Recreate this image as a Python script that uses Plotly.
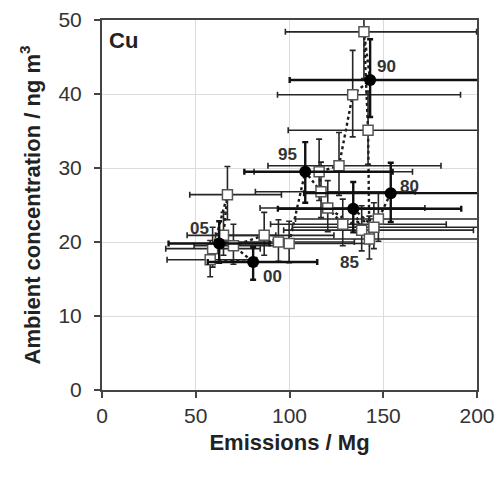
import plotly.graph_objects as go

# Chronological series 1980-2005
years = ["80","81","82","83","84","85","86","87","88","89","90","91","92","93","94",
         "95","96","97","98","99","00","01","02","03","04","05"]
emissions = [154.0,147.4,128.4,120.4,138.5,134.0,145.0,142.6,141.9,139.7,143.0,133.7,126.4,115.8,116.8,
             108.4,99.8,94.1,86.5,70.1,80.6,57.7,66.9,64.8,59.0,62.5]
concentration = [26.6,23.1,22.4,24.6,21.6,24.5,22.0,20.4,35.1,48.4,41.9,39.9,30.3,29.5,26.8,
                 29.5,19.8,20.0,20.9,19.5,17.3,17.6,26.4,20.9,19.1,19.8]
emis_err_plus = [66.2,63.4,55.2,51.8,59.6,57.6,62.4,61.3,61.0,60.1,61.5,57.5,54.4,49.8,50.2,
                 46.6,42.9,40.5,37.2,30.1,34.2,24.8,28.8,27.9,25.4,26.9]
emis_err_minus = [46.2,44.2,38.5,36.1,41.6,40.2,43.5,42.8,42.6,41.9,42.9,40.1,37.9,34.7,35.0,
                  32.5,29.9,28.2,26.0,21.0,24.2,23.0,20.1,19.4,25.0,27.0]
conc_err_plus = [4.1,3.5,3.4,3.7,3.3,3.6,3.3,3.1,5.3,7.0,5.5,6.0,4.5,4.4,4.0,
                 4.0,3.0,3.0,3.1,2.9,2.0,2.6,3.8,3.1,2.9,3.0]
conc_err_minus = [3.9,3.0,2.9,3.2,2.8,3.2,2.9,2.7,4.6,6.3,5.0,5.7,4.0,3.9,3.5,
                  4.2,2.6,2.6,2.7,2.5,2.4,2.3,3.4,2.7,2.5,2.6]
labelled = ["80","85","90","95","00","05"]
label_pos = {"80": (19, 7), "85": (-4, -54), "90": (16, 13), "95": (-18, 17), "00": (19, -15), "05": (-20, 15)}

idx_f = [i for i, y in enumerate(years) if y in labelled]
idx_o = [i for i, y in enumerate(years) if y not in labelled]

FONT = "Liberation Sans, Arial"
fig = go.Figure()
# dotted chronological line
fig.add_trace(go.Scatter(x=emissions, y=concentration, mode="lines",
                         line=dict(color="#1a1a1a", width=2.4, dash="dot"),
                         showlegend=False, hoverinfo="skip"))
# open squares with error bars
fig.add_trace(go.Scatter(
    x=[emissions[i] for i in idx_o], y=[concentration[i] for i in idx_o], mode="markers",
    marker=dict(symbol="square", size=10, color="white", line=dict(color="#555", width=1.5)),
    error_x=dict(type="data", symmetric=False, array=[emis_err_plus[i] for i in idx_o],
                 arrayminus=[emis_err_minus[i] for i in idx_o], color="#262626", thickness=1.6, width=3),
    error_y=dict(type="data", symmetric=False, array=[conc_err_plus[i] for i in idx_o],
                 arrayminus=[conc_err_minus[i] for i in idx_o], color="#262626", thickness=1.6, width=3),
    showlegend=False))
# filled circles with error bars
fig.add_trace(go.Scatter(
    x=[emissions[i] for i in idx_f], y=[concentration[i] for i in idx_f], mode="markers",
    marker=dict(symbol="circle", size=12, color="black"),
    error_x=dict(type="data", symmetric=False, array=[emis_err_plus[i] for i in idx_f],
                 arrayminus=[emis_err_minus[i] for i in idx_f], color="#111", thickness=2.4, width=3),
    error_y=dict(type="data", symmetric=False, array=[conc_err_plus[i] for i in idx_f],
                 arrayminus=[conc_err_minus[i] for i in idx_f], color="#111", thickness=2.4, width=3),
    showlegend=False))

annotations = []
for i in idx_f:
    dx, dy = label_pos[years[i]]
    annotations.append(dict(x=emissions[i], y=concentration[i], text="<b>%s</b>" % years[i],
                            showarrow=False, xshift=dx, yshift=dy,
                            font=dict(family=FONT, size=17, color="#333")))
annotations.append(dict(x=0.013, y=0.985, xref="paper", yref="paper", xanchor="left", yanchor="top",
                        text="<b>Cu</b>", showarrow=False,
                        font=dict(family=FONT, size=22, color="#222")))

axis_common = dict(showline=True, linecolor="#444", linewidth=2, mirror=True,
                   ticks="outside", ticklen=6, tickcolor="#444", tickwidth=1.5,
                   showgrid=True, gridcolor="#dcdcdc", gridwidth=1, zeroline=False,
                   automargin=False,
                   tickfont=dict(family=FONT, size=21, color="#333"))

fig.update_layout(
    width=503, height=478,
    margin=dict(l=102, r=26, t=20, b=88),
    paper_bgcolor="white", plot_bgcolor="white",
    xaxis=dict(range=[0, 200], tickvals=[0, 50, 100, 150, 200],
               title=dict(text="<b>Emissions / Mg</b>", standoff=8,
                          font=dict(family=FONT, size=22, color="#222")),
               **axis_common),
    yaxis=dict(range=[0, 50], tickvals=[0, 10, 20, 30, 40, 50], ticklabelstandoff=8,
               title=dict(text="<b>Ambient concentration / ng m<sup>3</sup></b>", standoff=12,
                          font=dict(family=FONT, size=22, color="#222")),
               **axis_common),
    annotations=annotations,
)
fig.write_html("out.html")
